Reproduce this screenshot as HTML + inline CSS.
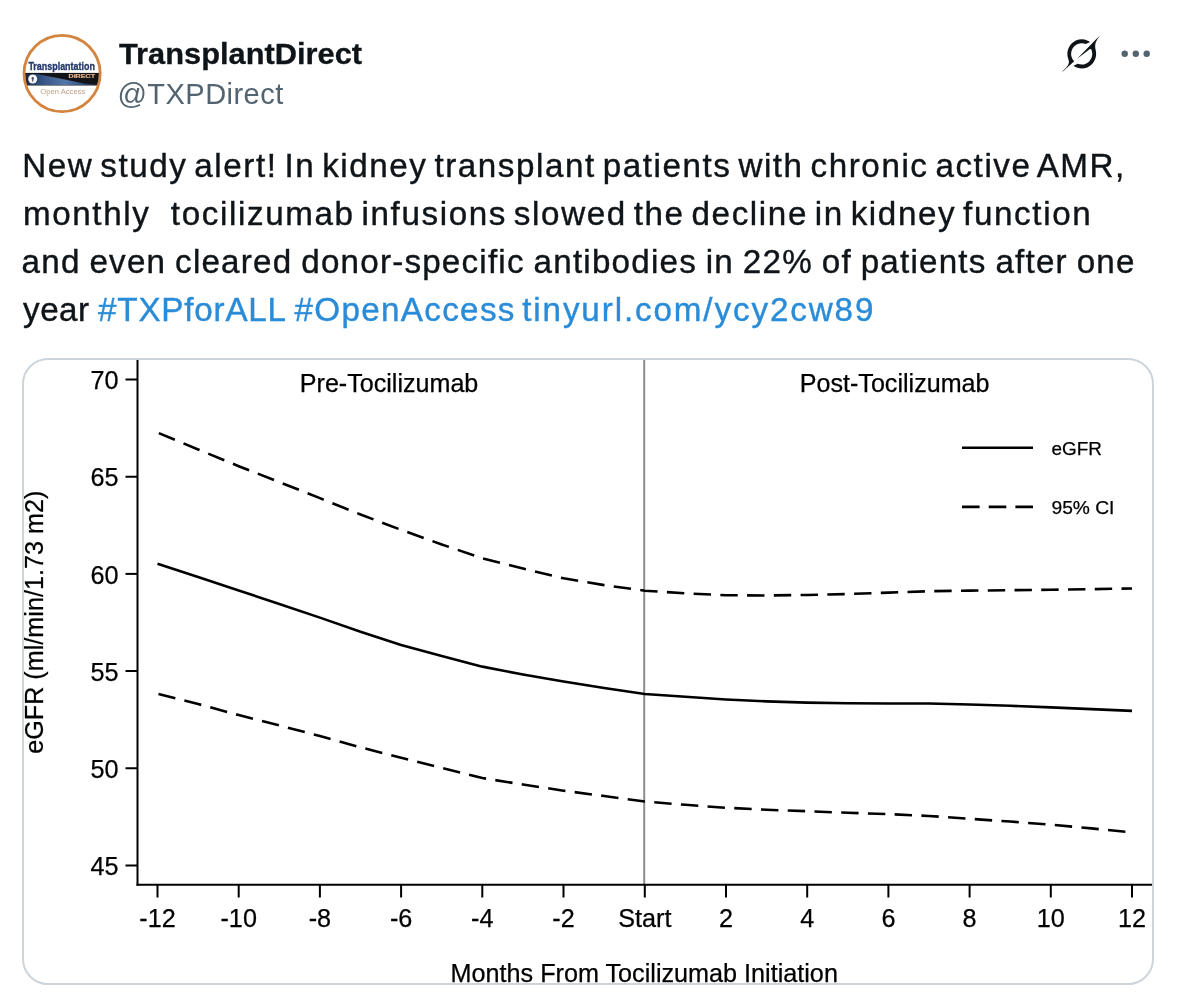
<!DOCTYPE html>
<html><head><meta charset="utf-8">
<style>
html,body{margin:0;padding:0;background:#fff;}
body{width:1179px;height:1002px;overflow:hidden;position:relative;font-family:"Liberation Sans",Arial,sans-serif;}
.abs{position:absolute;white-space:pre;}
.name{left:118.7px;top:37.4px;font-size:29px;font-weight:bold;color:#0f1419;line-height:34px;transform:scaleX(1.062);transform-origin:0 0;-webkit-text-stroke:0.3px #0f1419;}
.handle{left:117.4px;top:76.6px;font-size:29px;color:#536471;line-height:34px;letter-spacing:0.478px;}
.tw{left:24px;font-size:33.2px;color:#0f1419;line-height:48px;-webkit-text-stroke:0.4px currentColor;}
.lk{color:#2a8cd8;}
.card{position:absolute;left:22px;top:358px;width:1128px;height:623px;border:2px solid #cdd5db;border-radius:26px;overflow:hidden;}
.card svg{position:absolute;left:-24px;top:-360px;}
</style></head><body>
<svg class="abs" style="left:0;top:0" width="1179" height="130" viewBox="0 0 1179 130">
  <defs>
    <clipPath id="av"><circle cx="62.1" cy="73.5" r="37.6"/></clipPath>
    <linearGradient id="bg" x1="28" y1="0" x2="96" y2="0" gradientUnits="userSpaceOnUse">
      <stop offset="0" stop-color="#1f3459"/><stop offset="0.25" stop-color="#39598a"/><stop offset="0.55" stop-color="#5577a8"/><stop offset="0.8" stop-color="#34527f"/><stop offset="1" stop-color="#1a2436"/>
    </linearGradient>
  </defs>
  <circle cx="62.1" cy="73.5" r="38.5" fill="#fff"/>
  <g clip-path="url(#av)">
    <text x="28.4" y="70.3" font-family="Liberation Sans" font-weight="bold" font-size="11.6" fill="#23386a" stroke="#23386a" stroke-width="0.35" textLength="66.5" lengthAdjust="spacingAndGlyphs">Transplantation</text>
    <rect x="20" y="72.9" width="85" height="12.6" fill="#121418"/>
    <polygon points="28,74.4 37,73.9 60,78.5 84,83.4 97,84.6 97,84.9 28,84.9" fill="url(#bg)"/>
    <rect x="20" y="73.6" width="8.6" height="11.3" fill="#1b2740"/>
    <text x="68.5" y="78.2" font-family="Liberation Sans" font-weight="bold" font-size="5" fill="#e2ad88" stroke="#e2ad88" stroke-width="0.2" textLength="26.5" lengthAdjust="spacingAndGlyphs">DIRECT</text>
    <circle cx="32.7" cy="79" r="4.5" fill="#f5f6f8"/>
    <ellipse cx="32.7" cy="78.2" rx="1.1" ry="1.5" fill="#4c5568"/>
    <rect x="32.1" y="78.8" width="1.2" height="2.8" fill="#4c5568"/>
    <text x="40.3" y="94" font-family="Liberation Sans" font-size="8.1" fill="#bf9f82" textLength="45" lengthAdjust="spacingAndGlyphs">Open Access</text>
  </g>
  <circle cx="62.1" cy="73.5" r="38.1" fill="none" stroke="#d3843f" stroke-width="2.8"/>
  <g transform="translate(1062.0,34.96) scale(1.165)"><path fill="#0f1419" d="M12.745 20.54l10.97-8.19c.539-.4 1.307-.244 1.564.38 1.349 3.288.746 7.241-1.938 9.955-2.683 2.714-6.417 3.31-9.83 1.954l-3.728 1.745c5.347 3.697 11.84 2.782 15.898-1.324 3.219-3.255 4.216-7.692 3.284-11.693l.008.009c-1.351-5.878.332-8.227 3.782-13.031L33 0l-4.54 4.59v-.014L12.743 20.544m-2.263 1.987c-3.837-3.707-3.175-9.446.1-12.755 2.42-2.449 6.388-3.448 9.852-1.979l3.72-1.737c-.67-.49-1.530-1.017-2.515-1.387-4.455-1.854-9.789-.931-13.41 2.728-3.483 3.523-4.579 8.94-2.697 13.561 1.405 3.454-.899 5.898-3.22 8.364C1.49 30.2.666 31.074 0 32l10.478-9.466"/></g>
  <circle cx="1124.7" cy="53.8" r="3.2" fill="#536471"/>
  <circle cx="1135.8" cy="53.8" r="3.2" fill="#536471"/>
  <circle cx="1146.7" cy="53.8" r="3.2" fill="#536471"/>
</svg>
<div class="abs name">TransplantDirect</div>
<div class="abs handle">@TXPDirect</div>
<div class="abs tw" style="top:142.4px;left:22.24px;letter-spacing:1.554px;word-spacing:-3.788px">New study alert! In kidney transplant patients with chronic active AMR,</div>
<div class="abs tw" style="top:190.4px;left:22.94px;letter-spacing:1.621px;word-spacing:-4.048px">monthly   tocilizumab infusions slowed the decline in kidney function</div>
<div class="abs tw" style="top:238.4px;left:21.61px;letter-spacing:1.208px;word-spacing:-1.592px">and even cleared donor-specific antibodies in 22% of patients after one</div>
<div class="abs tw" id="l4a" style="top:286.4px;left:23.1px;letter-spacing:0.467px">year</div>
<div class="abs tw lk" id="l4b" style="top:286.4px;left:98.1px;letter-spacing:0.8px">#TXPforALL</div>
<div class="abs tw lk" id="l4c" style="top:286.4px;left:294.6px;letter-spacing:1.32px">#OpenAccess</div>
<div class="abs tw lk" id="l4d" style="top:286.4px;left:522.2px;letter-spacing:1.884px">tinyurl.com/ycy2cw89</div>
<div class="card">
<svg width="1179" height="1002" viewBox="0 0 1179 1002" font-family="Liberation Sans, Arial, sans-serif">
  <line x1="644.2" y1="340" x2="644.2" y2="884" stroke="#8c8c8c" stroke-width="2"/>
  <g stroke="#000" stroke-width="2" fill="none">
    <line x1="137.5" y1="340" x2="137.5" y2="885.8"/>
    <line x1="136.5" y1="884.8" x2="1179" y2="884.8"/>
    <line x1="125.5" y1="379.6" x2="138" y2="379.6"/><line x1="125.5" y1="476.8" x2="138" y2="476.8"/><line x1="125.5" y1="573.9" x2="138" y2="573.9"/><line x1="125.5" y1="671.0" x2="138" y2="671.0"/><line x1="125.5" y1="768.2" x2="138" y2="768.2"/><line x1="125.5" y1="865.4" x2="138" y2="865.4"/>
    <line x1="157.5" y1="884" x2="157.5" y2="897.5"/><line x1="238.7" y1="884" x2="238.7" y2="897.5"/><line x1="319.9" y1="884" x2="319.9" y2="897.5"/><line x1="401.1" y1="884" x2="401.1" y2="897.5"/><line x1="482.3" y1="884" x2="482.3" y2="897.5"/><line x1="563.5" y1="884" x2="563.5" y2="897.5"/><line x1="644.8" y1="884" x2="644.8" y2="897.5"/><line x1="726.0" y1="884" x2="726.0" y2="897.5"/><line x1="807.2" y1="884" x2="807.2" y2="897.5"/><line x1="888.4" y1="884" x2="888.4" y2="897.5"/><line x1="969.6" y1="884" x2="969.6" y2="897.5"/><line x1="1050.8" y1="884" x2="1050.8" y2="897.5"/><line x1="1132.0" y1="884" x2="1132.0" y2="897.5"/>
  </g>
  <g fill="#000" stroke="#000" stroke-width="0.25" font-size="25.2"><text x="118.5" y="389.2" text-anchor="end">70</text><text x="118.5" y="486.4" text-anchor="end">65</text><text x="118.5" y="583.5" text-anchor="end">60</text><text x="118.5" y="680.6" text-anchor="end">55</text><text x="118.5" y="777.8" text-anchor="end">50</text><text x="118.5" y="875.0" text-anchor="end">45</text><text x="157.5" y="926.8" text-anchor="middle">-12</text><text x="238.7" y="926.8" text-anchor="middle">-10</text><text x="319.9" y="926.8" text-anchor="middle">-8</text><text x="401.1" y="926.8" text-anchor="middle">-6</text><text x="482.3" y="926.8" text-anchor="middle">-4</text><text x="563.5" y="926.8" text-anchor="middle">-2</text><text x="644.8" y="926.8" text-anchor="middle">Start</text><text x="726.0" y="926.8" text-anchor="middle">2</text><text x="807.2" y="926.8" text-anchor="middle">4</text><text x="888.4" y="926.8" text-anchor="middle">6</text><text x="969.6" y="926.8" text-anchor="middle">8</text><text x="1050.8" y="926.8" text-anchor="middle">10</text><text x="1132.0" y="926.8" text-anchor="middle">12</text></g>
  <g fill="none" stroke="#000" stroke-width="2.6">
    <path d="M157.50,563.70 L198.10,577.09 L238.71,590.47 L279.31,603.92 L319.92,617.63 L360.52,631.81 L401.12,644.95 L441.73,656.08 L482.33,666.64 L522.94,674.52 L563.54,681.55 L604.14,687.99 L644.75,693.96 L685.35,696.80 L725.96,699.46 L766.56,701.39 L807.16,702.66 L847.77,703.28 L888.37,703.46 L928.98,703.55 L969.58,704.46 L1010.18,705.77 L1050.79,707.36 L1091.39,709.14 L1132.00,710.90"/>
    <path d="M157.50,432.58 L198.10,449.45 L238.71,466.18 L279.31,482.08 L319.92,498.16 L360.52,514.48 L401.12,529.89 L441.73,544.43 L482.33,558.28 L522.94,568.51 L563.54,578.28 L604.14,585.15 L644.75,590.69 L685.35,593.38 L725.96,595.21 L766.56,595.46 L807.16,594.94 L847.77,594.03 L888.37,592.58 L928.98,591.21 L969.58,590.61 L1010.18,590.20 L1050.79,589.80 L1091.39,589.14 L1132.00,588.50" stroke-dasharray="17.4 9.35" stroke-dashoffset="-1.4"/>
    <path d="M157.50,693.75 L198.10,704.01 L238.71,715.09 L279.31,725.40 L319.92,736.01 L360.52,747.35 L401.12,757.76 L441.73,767.91 L482.33,778.04 L522.94,784.51 L563.54,790.67 L604.14,796.03 L644.75,801.48 L685.35,804.82 L725.96,807.75 L766.56,809.78 L807.16,811.23 L847.77,812.81 L888.37,814.08 L928.98,815.98 L969.58,818.78 L1010.18,821.57 L1050.79,824.64 L1091.39,828.36 L1132.00,832.47" stroke-dasharray="17.4 9.35" stroke-dashoffset="-1"/>
    <line x1="962" y1="447.7" x2="1033" y2="447.7"/>
    <line x1="962" y1="506.9" x2="1033" y2="506.9" stroke-dasharray="17.6 9.1"/>
  </g>
  <g fill="#000" stroke="#000" stroke-width="0.25">
    <text x="299.8" y="392.2" font-size="25.1">Pre-Tocilizumab</text>
    <text x="799.8" y="392.2" font-size="25.1">Post-Tocilizumab</text>
    <text x="1051.5" y="455" font-size="18.9">eGFR</text>
    <text x="1051.5" y="513.5" font-size="19.2">95% CI</text>
    <text x="450.6" y="982" font-size="25.2">Months From Tocilizumab Initiation</text>
    <text transform="translate(42.6,753.8) rotate(-90)" font-size="25.2">eGFR (ml/min/1.73 m2)</text>
  </g>
</svg>
</div>
</body></html>
